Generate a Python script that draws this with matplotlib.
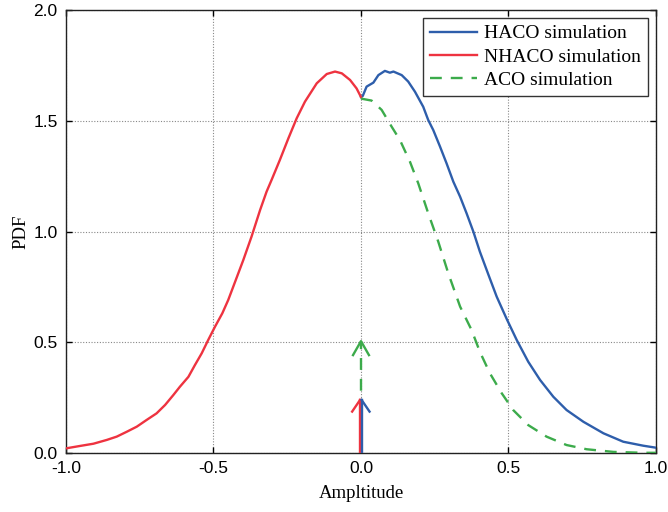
import matplotlib
matplotlib.use("Agg")
import matplotlib.pyplot as plt

# NHACO simulation (x < 0)
nhaco_x = [-1.0, -0.952, -0.907, -0.862, -0.828, -0.794, -0.760, -0.727, -0.693, -0.664,
           -0.636, -0.614, -0.585, -0.563, -0.540, -0.518, -0.495, -0.470, -0.450, -0.433,
           -0.399, -0.371, -0.342, -0.320, -0.303, -0.275, -0.246, -0.218, -0.190, -0.150,
           -0.116, -0.088, -0.065, -0.037, -0.015, 0.0]
nhaco_y = [0.021, 0.032, 0.042, 0.059, 0.074, 0.096, 0.119, 0.149, 0.179, 0.217,
           0.262, 0.299, 0.344, 0.397, 0.450, 0.510, 0.570, 0.631, 0.691, 0.751,
           0.871, 0.977, 1.097, 1.180, 1.233, 1.323, 1.421, 1.511, 1.586, 1.669,
           1.711, 1.722, 1.714, 1.684, 1.646, 1.607]

# HACO simulation (x > 0)
haco_x = [0.0, 0.006, 0.019, 0.042, 0.059, 0.081, 0.098, 0.110, 0.138, 0.160, 0.183,
          0.211, 0.228, 0.245, 0.268, 0.290, 0.313, 0.336, 0.358, 0.381, 0.403, 0.432,
          0.460, 0.494, 0.528, 0.567, 0.607, 0.652, 0.697, 0.754, 0.822, 0.889, 0.957, 1.0]
haco_y = [1.607, 1.612, 1.654, 1.672, 1.706, 1.725, 1.717, 1.722, 1.706, 1.677, 1.631,
          1.563, 1.503, 1.458, 1.383, 1.308, 1.225, 1.157, 1.082, 0.999, 0.909, 0.805,
          0.706, 0.605, 0.510, 0.412, 0.330, 0.254, 0.194, 0.141, 0.089, 0.051, 0.033, 0.024]

# ACO simulation (x > 0)
aco_x = [0.0, 0.036, 0.070, 0.104, 0.132, 0.166, 0.194, 0.228, 0.262, 0.296, 0.336,
         0.375, 0.403, 0.437, 0.477, 0.516, 0.567, 0.629, 0.697, 0.765, 0.856, 0.957, 1.0]
aco_y = [1.600, 1.591, 1.549, 1.473, 1.413, 1.315, 1.218, 1.082, 0.954, 0.811, 0.661,
         0.555, 0.457, 0.360, 0.270, 0.194, 0.126, 0.074, 0.036, 0.017, 0.005, 0.001, 0.001]

# Delta (impulse) heights at x = 0
delta_nhaco = 0.24
delta_haco = 0.24
delta_aco = 0.505

xticks = [-1.0, -0.5, 0.0, 0.5, 1.0]
yticks = [0.0, 0.5, 1.0, 1.5, 2.0]

blue = '#2e5eab'
red = '#ee3340'
green = '#3cab4b'

fig = plt.figure(figsize=(6.68, 5.12), dpi=100)
ax = fig.add_axes([0.0988, 0.1152, 0.8832, 0.8653])

lw = 1.7
dash = (0, (5.0, 3.8))
ax.plot(haco_x, haco_y, color=blue, lw=lw, label='HACO simulation', zorder=3)
ax.plot(nhaco_x, nhaco_y, color=red, lw=lw, label='NHACO simulation', zorder=3)
ax.plot(aco_x, aco_y, color=green, lw=lw, ls=dash, label='ACO simulation', zorder=3)

# impulses
ax.plot([0, 0], [0, delta_aco], color=green, lw=lw, ls=dash, zorder=2)
ax.plot([-0.027, 0, 0.027], [delta_aco - 0.063, delta_aco, delta_aco - 0.063],
        color=green, lw=lw, zorder=2)
ax.plot([-0.005, -0.005], [0, delta_nhaco], color=red, lw=lw, zorder=4)
ax.plot([-0.030, -0.003], [delta_nhaco - 0.053, delta_nhaco], color=red, lw=lw, zorder=4)
ax.plot([0.004, 0.004], [0, delta_haco], color=blue, lw=lw, zorder=5)
ax.plot([0.002, 0.029], [delta_haco, delta_haco - 0.053], color=blue, lw=lw, zorder=5)

ax.set_xlim(-1.0, 1.0)
ax.set_ylim(0.0, 2.0)
ax.set_xticks(xticks)
ax.set_yticks(yticks)
ax.set_xticklabels([f'{v:.1f}' for v in xticks], family='Liberation Sans', fontsize=12.5)
ax.set_yticklabels([f'{v:.1f}' for v in yticks], family='Liberation Sans', fontsize=12.5)
ax.tick_params(direction='in', length=4, width=1.0, top=True, right=True, pad=6)
ax.grid(True, color='#888888', ls=(0, (1, 1.5)), lw=0.8)
for s in ax.spines.values():
    s.set_linewidth(1.0)
    s.set_color('#222222')

ax.set_xlabel('Ampltitude', family='Liberation Serif', fontsize=13.5, labelpad=6)
ax.set_ylabel('PDF', family='Liberation Serif', fontsize=13.5, labelpad=3)

leg = ax.legend(loc='upper right', prop={'family': 'Liberation Serif', 'size': 14},
                fancybox=False, framealpha=1, edgecolor='#333333', handlelength=2.4,
                borderpad=0.35, labelspacing=0.3, handletextpad=0.4, borderaxespad=0,
                bbox_to_anchor=(0.9865, 0.982))
leg.get_frame().set_linewidth(1.0)

fig.savefig('out.png', dpi=100)
